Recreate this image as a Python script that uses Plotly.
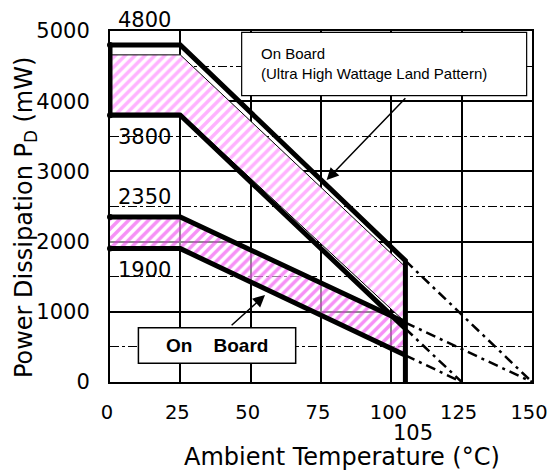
import plotly.graph_objects as go

# ---- data ----
temps = [0, 25, 105]                 # breakpoints (°C)
uhw_top = [4800, 4800, 1728]         # Ultra High Wattage pattern, upper curve (mW)
uhw_bot = [3800, 3800, 760]          # Ultra High Wattage pattern, lower curve (mW)
uhw_inner_top = [4660, 4660, 1640]   # inner outline of hatched band (upper)
uhw_inner_bot = [3830, 3830, 850]    # inner outline of hatched band (lower)
ob_top = [2350, 2350, 846]           # On Board, upper curve (mW)
ob_bot = [1900, 1900, 380]           # On Board, lower curve (mW)
zero_temp_top = 150                  # where upper curves reach 0 mW
zero_temp_bot = 125                  # where lower curves reach 0 mW
x_ticks = [0, 25, 50, 75, 100, 125, 150]
y_ticks = [0, 1000, 2000, 3000, 4000, 5000]
value_labels = ["3800", "2350", "1900"]
value_label_y = [3490, 2635, 1595]

FONT = "DejaVu Sans, sans-serif"
AFONT = "Liberation Sans, Arial, sans-serif"
fig = go.Figure()

# hatched upper band
fig.add_trace(go.Scatter(x=temps, y=uhw_inner_bot, mode="lines",
                         line=dict(color="black", width=1), showlegend=False, hoverinfo="skip"))
fig.add_trace(go.Scatter(x=temps, y=uhw_inner_top, mode="lines", fill="tonexty",
                         fillcolor="white",
                         fillpattern=dict(shape="/", fgcolor="#ff66ff", bgcolor="white",
                                          size=7, solidity=0.5),
                         line=dict(color="black", width=1), showlegend=False, hoverinfo="skip"))
# hatched lower band
fig.add_trace(go.Scatter(x=temps, y=ob_bot, mode="lines",
                         line=dict(color="black", width=0), showlegend=False, hoverinfo="skip"))
fig.add_trace(go.Scatter(x=temps, y=ob_top, mode="lines", fill="tonexty",
                         fillcolor="rgba(0,0,0,0)",
                         fillpattern=dict(shape="/", fgcolor="#ee22ee", bgcolor="rgba(255,255,255,0.55)",
                                          size=7, solidity=0.5),
                         line=dict(color="black", width=0), showlegend=False, hoverinfo="skip"))

# dash-dot continuation lines beyond 105 °C
dd = dict(color="black", width=2.5, dash="10px,5px,3px,5px")
for y_end_src, t0 in [(uhw_top, zero_temp_top), (uhw_bot, zero_temp_bot),
                      (ob_top, zero_temp_top), (ob_bot, zero_temp_bot)]:
    fig.add_trace(go.Scatter(x=[temps[-1], t0], y=[y_end_src[-1], 0], mode="lines",
                             line=dd, showlegend=False, hoverinfo="skip"))

# thick curves
thick = dict(color="black", width=5)
fig.add_trace(go.Scatter(x=[temps[0]] + temps + [temps[-1]],
                         y=[uhw_bot[0]] + uhw_top + [0],
                         mode="lines", line=thick, showlegend=False, hoverinfo="skip"))
fig.add_trace(go.Scatter(x=temps, y=uhw_bot, mode="lines", line=thick,
                         showlegend=False, hoverinfo="skip"))
fig.add_trace(go.Scatter(x=temps, y=ob_top, mode="lines", line=thick,
                         showlegend=False, hoverinfo="skip"))
fig.add_trace(go.Scatter(x=temps, y=ob_bot, mode="lines", line=thick,
                         showlegend=False, hoverinfo="skip"))
# end dots at 0 °C
fig.add_trace(go.Scatter(x=[temps[0]] * 4, y=[uhw_top[0], uhw_bot[0], ob_top[0], ob_bot[0]],
                         mode="markers", marker=dict(color="black", size=6),
                         cliponaxis=False, showlegend=False, hoverinfo="skip"))

C = dict(xanchor="center", yanchor="middle", showarrow=False)
annotations = []
for txt, yv in zip(value_labels, value_label_y):
    annotations.append(dict(x=12.3, y=yv, xref="x", yref="y", text=txt,
                            font=dict(family=FONT, size=21, color="black"), **C))
annotations.append(dict(x=0.0806, y=1.031, xref="paper", yref="paper", text="4800",
                        font=dict(family=FONT, size=21, color="black"), **C))

# annotation boxes
annotations.append(dict(x=53.0, y=4530, xref="x", yref="y", xanchor="left", yanchor="middle",
                        text="On Board<br>(Ultra High Wattage Land Pattern)", align="left",
                        showarrow=False, font=dict(family=AFONT, size=15, color="black")))
annotations.append(dict(x=38, y=520, xref="x", yref="y",
                        text="On\u00a0\u00a0\u00a0\u00a0Board",
                        font=dict(family=AFONT, size=19, color="black", weight="bold"), **C))
# arrows
annotations.append(dict(x=77.0, y=2877, ax=105.5, ay=4064, xref="x", yref="y",
                        axref="x", ayref="y", text="", showarrow=True, arrowhead=2,
                        arrowsize=1.6, arrowwidth=1.5, arrowcolor="black"))
annotations.append(dict(x=55.1, y=1239, ax=42.7, ay=788, xref="x", yref="y",
                        axref="x", ayref="y", text="", showarrow=True, arrowhead=2,
                        arrowsize=1.6, arrowwidth=1.5, arrowcolor="black"))
# extra tick label & axis titles
annotations.append(dict(x=0.718, y=-0.145, xref="paper", yref="paper", text="105",
                        font=dict(family=FONT, size=21, color="black"), **C))
annotations.append(dict(x=0.5498, y=-0.2137, xref="paper", yref="paper",
                        text="Ambient Temperature (°C)",
                        font=dict(family=FONT, size=24, color="black"), **C))
annotations.append(dict(x=-0.2014, y=0.467, xref="paper", yref="paper", textangle=-90,
                        text="Power Dissipation P<sub>D</sub> (mW)",
                        font=dict(family=FONT, size=24, color="black"), **C))

shapes = [
    dict(type="rect", xref="x", yref="y", x0=46.8, x1=148.1, y0=4078, y1=4981,
         fillcolor="white", line=dict(color="black", width=1.2), layer="above"),
    dict(type="rect", xref="x", yref="y", x0=10.1, x1=66.0, y0=266, y1=773,
         fillcolor="white", line=dict(color="black", width=1.5), layer="above"),
]

fig.update_layout(
    width=547, height=475,
    margin=dict(l=110, r=15, t=31, b=93, autoexpand=False),
    paper_bgcolor="white", plot_bgcolor="white",
    font=dict(family=FONT, color="black"),
    annotations=annotations, shapes=shapes,
    xaxis=dict(range=[0, 150], tickvals=x_ticks, ticktext=[str(v) for v in x_ticks],
               showgrid=True, gridcolor="black", gridwidth=1.5, zeroline=False,
               showline=True, linecolor="black", linewidth=2, mirror=True,
               ticks="", tickfont=dict(family=FONT, size=19.5, color="black"),
               ticklabelstandoff=12, ticklabelshift=-3,
               automargin=False, ticklabeloverflow="allow"),
    yaxis=dict(range=[0, 5000], tickvals=y_ticks, ticktext=[str(v) for v in y_ticks],
               showgrid=True, gridcolor="black", gridwidth=1.5, zeroline=False,
               showline=True, linecolor="black", linewidth=2, mirror=True,
               ticks="", tickfont=dict(family=FONT, size=21, color="black"),
               ticklabelstandoff=14, automargin=False, ticklabeloverflow="allow",
               minor=dict(dtick=500, showgrid=True, gridcolor="black", gridwidth=1,
                          griddash="dashdot")),
)

fig.write_html("out.html", config={"displayModeBar": False},
               post_script="document.body.style.margin='0';document.body.style.overflow='hidden';")
